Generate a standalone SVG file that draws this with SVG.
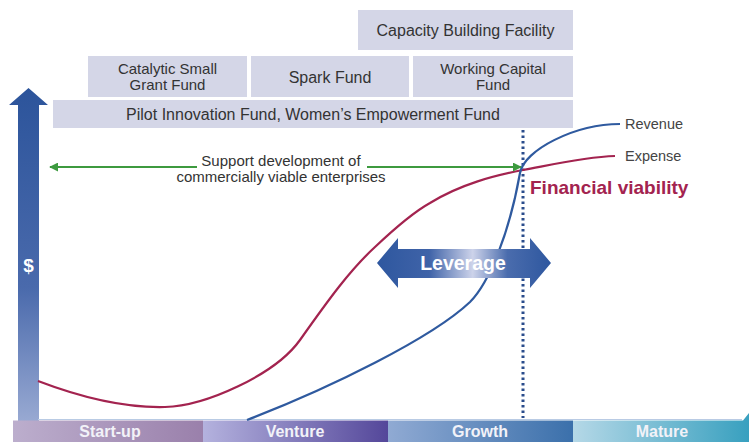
<svg xmlns="http://www.w3.org/2000/svg" width="749" height="443" viewBox="0 0 749 443">
<style>
.box{fill:#d4d6e7}
.bt{font-family:"Liberation Sans",Arial,sans-serif;font-size:16px;fill:#333;text-anchor:middle}
.bt2{font-family:"Liberation Sans",Arial,sans-serif;font-size:15px;fill:#333;text-anchor:middle}
.lbl{font-family:"Liberation Sans",Arial,sans-serif;font-size:14.5px;fill:#444}
.stage{font-family:"Liberation Sans",Arial,sans-serif;font-size:16px;font-weight:bold;fill:#f2f2f8;text-anchor:middle}
.curve{fill:none;stroke-width:2.2}
</style>
<defs>
<linearGradient id="gY" x1="0" y1="0" x2="0" y2="1"><stop offset="0" stop-color="#2c549b"/><stop offset="0.6" stop-color="#4a6aac"/><stop offset="1" stop-color="#98a9d2"/></linearGradient>
<linearGradient id="gS" x1="0" y1="0" x2="1" y2="0"><stop offset="0" stop-color="#bcaecd"/><stop offset="1" stop-color="#9a80ab"/></linearGradient>
<linearGradient id="gV" x1="0" y1="0" x2="1" y2="0"><stop offset="0" stop-color="#b4b2de"/><stop offset="1" stop-color="#54479a"/></linearGradient>
<linearGradient id="gG" x1="0" y1="0" x2="1" y2="0"><stop offset="0" stop-color="#90aad3"/><stop offset="1" stop-color="#3b70ab"/></linearGradient>
<linearGradient id="gM" x1="0" y1="0" x2="1" y2="0"><stop offset="0" stop-color="#b5d8e7"/><stop offset="1" stop-color="#38a0bf"/></linearGradient>
<linearGradient id="gL" x1="377" y1="0" x2="551" y2="0" gradientUnits="userSpaceOnUse"><stop offset="0" stop-color="#2e579f"/><stop offset="0.3" stop-color="#3f63a8"/><stop offset="0.55" stop-color="#cdd3ea"/><stop offset="0.75" stop-color="#4a6cad"/><stop offset="1" stop-color="#2e579f"/></linearGradient>
<marker id="ga" viewBox="0 0 10 10" refX="9" refY="5" markerWidth="4.5" markerHeight="4.5" orient="auto-start-reverse"><path d="M0,0 L10,5 L0,10 z" fill="#3d9a3f"/></marker>
</defs>

<g id="axis-y">
<path d="M18,105 H9 L28.5,88 L48,105 H39 V421 H18 Z" fill="url(#gY)"/>
<text x="28.5" y="272" font-family="Liberation Sans,Arial,sans-serif" font-size="19" font-weight="bold" fill="#fff" text-anchor="middle">$</text>
</g>

<g id="stages">
<line x1="38" y1="419.5" x2="742" y2="419.5" stroke="#b9cbe4" stroke-width="1.2"/>
<rect x="13" y="420.5" width="190" height="21.5" fill="url(#gS)"/>
<rect x="203" y="420.5" width="185" height="21.5" fill="url(#gV)"/>
<rect x="388" y="420.5" width="185" height="21.5" fill="url(#gG)"/>
<path d="M573,420.5 H743 L749,413 V442 H573 Z" fill="url(#gM)"/>
<text class="stage" x="110" y="437">Start-up</text>
<text class="stage" x="295" y="437">Venture</text>
<text class="stage" x="480" y="437">Growth</text>
<text class="stage" x="662" y="437">Mature</text>
</g>

<g id="box-capacity"><rect class="box" x="358" y="10" width="215" height="40"/><text class="bt" x="465.5" y="36">Capacity Building Facility</text></g>
<g id="box-catalytic"><rect class="box" x="88" y="56" width="159" height="41"/><text class="bt2" x="167.5" y="74">Catalytic Small</text><text class="bt2" x="167.5" y="90">Grant Fund</text></g>
<g id="box-spark"><rect class="box" x="251" y="56" width="158" height="41"/><text class="bt" x="330" y="83">Spark Fund</text></g>
<g id="box-working"><rect class="box" x="413" y="56" width="160" height="41"/><text class="bt2" x="493" y="74">Working Capital</text><text class="bt2" x="493" y="90">Fund</text></g>
<g id="box-pilot"><rect class="box" x="53" y="100" width="520" height="28"/><text class="bt" x="313" y="120">Pilot Innovation Fund, Women’s Empowerment Fund</text></g>

<g id="connectors">
<line x1="523" y1="130" x2="523" y2="418" stroke="#2a4c8c" stroke-width="3" stroke-dasharray="2.5,3"/>
<path class="curve" stroke="#a3234f" d="M38,381 C85,399 125,408 165,407 C205,406 275,375 300,340 C329,299 350,270 375,247 C393,230 412,213 430,203 C461,184 493,176 523,170 C555,164 585,157 615,156"/>
<path class="curve" stroke="#2f5a9f" d="M247,420 C330,388 432,338 470,302 C490,282 510,230 520,173 C524,150 575,124 620,124"/>
<line x1="197" y1="167" x2="50" y2="167" stroke="#3d9a3f" stroke-width="2" marker-end="url(#ga)"/>
<line x1="367" y1="167" x2="521" y2="167" stroke="#3d9a3f" stroke-width="2" marker-end="url(#ga)"/>
</g>

<g id="support-label">
<text class="bt2" x="281" y="166" fill="#444">Support development of</text>
<text class="bt2" x="281" y="182" fill="#444">commercially viable enterprises</text>
</g>

<g id="leverage">
<path d="M377,263 L398,238 V249 H530 V238 L551,263 L530,288 V278 H398 V288 Z" fill="url(#gL)"/>
<text x="463" y="270" font-family="Liberation Sans,Arial,sans-serif" font-size="19.5" font-weight="bold" fill="#fff" text-anchor="middle">Leverage</text>
</g>

<g id="labels">
<text class="lbl" x="625" y="129">Revenue</text>
<text class="lbl" x="625" y="161">Expense</text>
<text x="530" y="194" font-family="Liberation Sans,Arial,sans-serif" font-size="19" font-weight="bold" fill="#a3234f">Financial viability</text>
</g>
</svg>
